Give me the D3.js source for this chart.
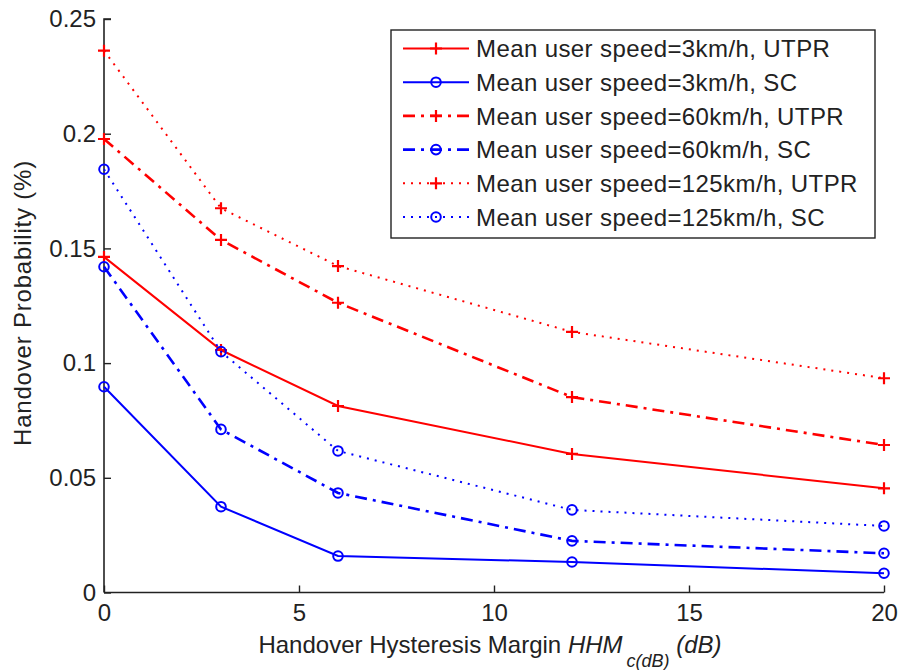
<!DOCTYPE html>
<html>
<head>
<meta charset="utf-8">
<script src="https://cdn.jsdelivr.net/npm/d3@7"></script>
<style>
  html, body { margin: 0; padding: 0; background: #fff; }
  svg { display: block; }
  text { font-family: "Liberation Sans", Arial, sans-serif; fill: #222; }
</style>
</head>
<body>
<svg id="chart" width="899" height="670"></svg>
<script>
// Hysteresis margin values (dB)
const margins = [0, 3, 6, 12, 20];

// Handover probability per scheme and mean user speed
const utpr3   = [0.1463, 0.1057, 0.0813, 0.0604, 0.0454];
const sc3     = [0.0897, 0.0374, 0.0159, 0.0133, 0.0084];
const utpr60  = [0.1977, 0.1537, 0.1263, 0.0852, 0.0643];
const sc60    = [0.1420, 0.0711, 0.0434, 0.0225, 0.0171];
const utpr125 = [0.2362, 0.1675, 0.1423, 0.1136, 0.0934];
const sc125   = [0.1845, 0.1050, 0.0617, 0.0360, 0.0290];

const seriesNames = [
  "Mean user speed=3km/h, UTPR",
  "Mean user speed=3km/h, SC",
  "Mean user speed=60km/h, UTPR",
  "Mean user speed=60km/h, SC",
  "Mean user speed=125km/h, UTPR",
  "Mean user speed=125km/h, SC"
];

const xTicks = [0, 5, 10, 15, 20];
const yTicks = [0, 0.05, 0.1, 0.15, 0.2, 0.25];

const series = [
  { name: seriesNames[0], values: utpr3,   color: "#ff0000", marker: "plus",   dash: null,       width: 2 },
  { name: seriesNames[1], values: sc3,     color: "#0000ff", marker: "circle", dash: null,       width: 2 },
  { name: seriesNames[2], values: utpr60,  color: "#ff0000", marker: "plus",   dash: "12,6,3,6", width: 2.6 },
  { name: seriesNames[3], values: sc60,    color: "#0000ff", marker: "circle", dash: "12,6,3,6", width: 2.6 },
  { name: seriesNames[4], values: utpr125, color: "#ff0000", marker: "plus",   dash: "2,6",      width: 2 },
  { name: seriesNames[5], values: sc125,   color: "#0000ff", marker: "circle", dash: "2,6",      width: 2 }
];

const FONT = 24;
const svg = d3.select("#chart");

const x = d3.scaleLinear().domain([0, 20]).range([104, 884]);
const y = d3.scaleLinear().domain([0, 0.25]).range([592.5, 19]);

// Axes (ticks pointing inward)
const xAxis = d3.axisBottom(x).tickValues(xTicks).tickSize(-7).tickFormat(d3.format("d"));
const yAxis = d3.axisLeft(y).tickValues(yTicks).tickSize(-7).tickPadding(8)
  .tickFormat(d => d === 0 ? "0" : String(+d.toFixed(2)));

const gx = svg.append("g").attr("transform", "translate(0,592.5)").call(xAxis);
const gy = svg.append("g").attr("transform", "translate(104,0)").call(yAxis);

[gx, gy].forEach(g => {
  g.select(".domain").attr("stroke", "#222").attr("stroke-width", 1.6);
  g.selectAll(".tick line").attr("stroke", "#222").attr("stroke-width", 1.4);
  g.selectAll(".tick text").attr("font-size", FONT).attr("fill", "#222")
    .attr("font-family", "Liberation Sans, Arial, sans-serif");
});
gx.select(".domain").attr("d", `M${x(0)},0H${x(20)}`);
gy.select(".domain").attr("d", `M0,${y(0)}V${y(0.25)}H7`);
gx.selectAll(".tick text").attr("y", 28).attr("dy", null);

// Axis titles
const xt = svg.append("text")
  .attr("x", 490).attr("y", 653)
  .attr("text-anchor", "middle")
  .attr("font-size", FONT);
xt.append("tspan").text("Handover Hysteresis Margin ");
xt.append("tspan").attr("font-style", "italic").text("HHM");
xt.append("tspan").attr("font-style", "italic").attr("font-size", 18).attr("dx", 4).attr("dy", 14).text("c(dB)");
xt.append("tspan").attr("font-style", "italic").attr("dy", -14).text(" (dB)");

svg.append("text")
  .attr("transform", "translate(31,303) rotate(-90)")
  .attr("text-anchor", "middle")
  .attr("font-size", FONT)
  .attr("letter-spacing", 0.8)
  .text("Handover Probability (%)");

// Lines
const line = d3.line().x((d, i) => x(margins[i])).y(d => y(d));

function drawMarker(g, type, cx, cy, color) {
  if (type === "plus") {
    g.append("path")
      .attr("d", `M${cx - 6},${cy}H${cx + 6}M${cx},${cy - 6}V${cy + 6}`)
      .attr("stroke", color).attr("stroke-width", 2.2).attr("fill", "none");
  } else {
    g.append("circle")
      .attr("cx", cx).attr("cy", cy).attr("r", 4.8)
      .attr("stroke", color).attr("stroke-width", 2).attr("fill", "none");
  }
}

const plot = svg.append("g");
series.forEach(s => {
  const g = plot.append("g");
  g.append("path")
    .datum(s.values)
    .attr("d", line)
    .attr("fill", "none")
    .attr("stroke", s.color)
    .attr("stroke-width", s.width)
    .attr("stroke-dasharray", s.dash);
  s.values.forEach((v, i) => drawMarker(g, s.marker, x(margins[i]), y(v), s.color));
});

// Legend
const lg = svg.append("g");
lg.append("rect")
  .attr("x", 391).attr("y", 30).attr("width", 484).attr("height", 208)
  .attr("fill", "#fff").attr("stroke", "#222").attr("stroke-width", 1.4);

series.forEach((s, i) => {
  const cy = 48.5 + i * 33.7;
  lg.append("path")
    .attr("d", `M403,${cy}H469`)
    .attr("stroke", s.color)
    .attr("stroke-width", s.width)
    .attr("stroke-dasharray", s.dash)
    .attr("fill", "none");
  drawMarker(lg, s.marker, 436, cy, s.color);
  lg.append("text")
    .attr("x", 476).attr("y", cy)
    .attr("dy", "0.36em")
    .attr("font-size", FONT)
    .attr("letter-spacing", 0.4)
    .text(s.name);
});
</script>
</body>
</html>
